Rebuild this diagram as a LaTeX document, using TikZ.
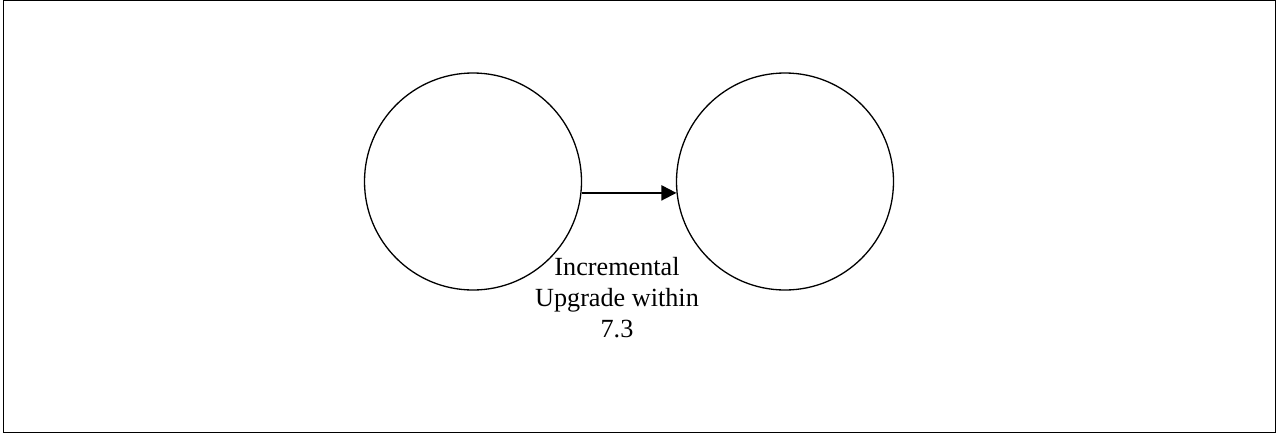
\documentclass[tikz,border=0pt]{standalone}
\usepackage{fontspec}
\setmainfont{Liberation Serif}
\usepackage{tikz}
\usetikzlibrary{arrows.meta}

\tikzset{
  state/.style={circle, draw, line width=1.3pt, minimum size=217pt, inner sep=0pt},
  upgrade/.style={-{Triangle[length=15pt,width=15pt]}, line width=2pt},
  note/.style={align=center, inner sep=0pt, font=\fontsize{26.2}{31}\selectfont}
}

\begin{document}
\begin{tikzpicture}[x=1pt,y=-1pt]

    % Page frame
    \useasboundingbox (0,0) rectangle (1276,434);
    \draw[line width=1.2pt] (3.5,0.8) rectangle (1275.2,432.6);

    % The two states
    \node[state] (old) at (473,181.5) {};
    \node[state] (new) at (785,181.5) {};

    % Upgrade step
    \draw[upgrade] (old.-6) -- (new.186);

    % Label under the arrow
    \node[note, anchor=north] (lbl) at (617,257.5) {Incremental\\Upgrade within\\7.3};

\end{tikzpicture}
\end{document}
